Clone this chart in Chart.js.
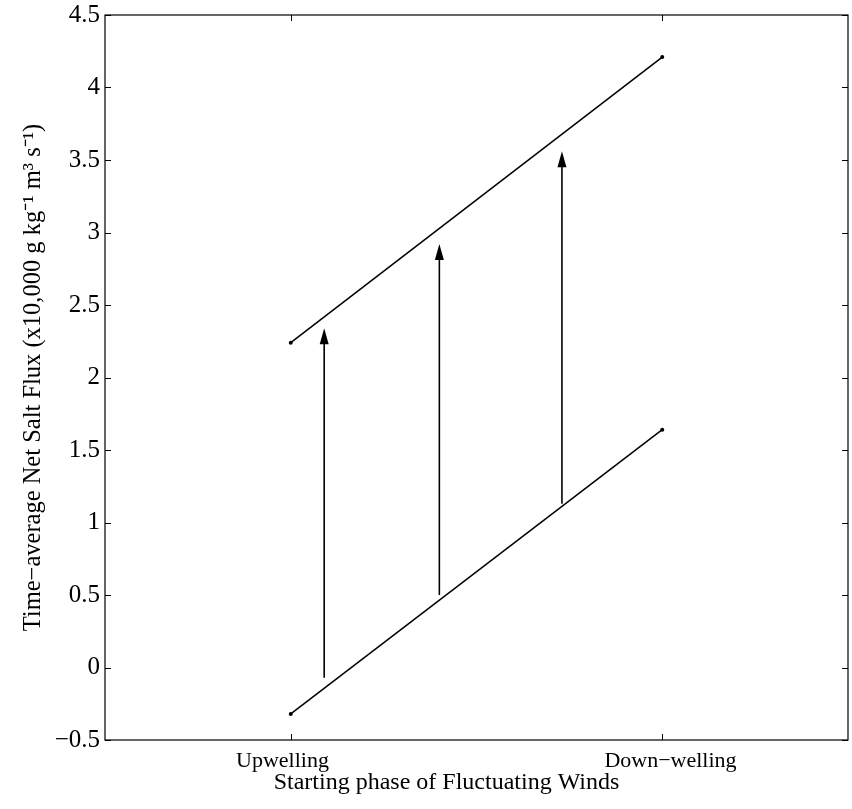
<!DOCTYPE html>
<html>
<head>
<meta charset="utf-8">
<script src="https://cdn.jsdelivr.net/npm/chart.js@4.4.1/dist/chart.umd.min.js"></script>
<style>
  html, body { margin: 0; padding: 0; background: #ffffff; }
  #wrap { width: 852px; height: 809px; position: relative; }
</style>
</head>
<body>
<div id="wrap"><canvas id="c"></canvas></div>
<script>
// ---- data ----
const phaseLabels = ['Upwelling\u00A0\u00A0\u00A0', '\u00A0\u00A0\u00A0Down\u2212welling'];
const phaseX = [0, 1];
const upperFlux = [2.24, 4.21];
const lowerFlux = [-0.32, 1.64];
const arrowX = [0.09, 0.40, 0.73];
const arrowStart = [-0.07, 0.50, 1.13];
const arrowEnd = [2.34, 2.92, 3.56];
const yTickValues = [-0.5, 0, 0.5, 1, 1.5, 2, 2.5, 3, 3.5, 4, 4.5];

const FONT = 'Liberation Serif';

const datasets = [
  {
    label: 'upper',
    data: phaseX.map((x, i) => ({ x: x, y: upperFlux[i] })),
    showLine: true, borderColor: '#000', borderWidth: 1.5,
    pointRadius: 2, pointBackgroundColor: '#000', pointBorderWidth: 0
  },
  {
    label: 'lower',
    data: phaseX.map((x, i) => ({ x: x, y: lowerFlux[i] })),
    showLine: true, borderColor: '#000', borderWidth: 1.5,
    pointRadius: 2, pointBackgroundColor: '#000', pointBorderWidth: 0
  }
];
arrowX.forEach((x, i) => {
  datasets.push({
    label: 'arrow' + i, isArrow: true,
    data: [{ x: x, y: arrowStart[i] }, { x: x, y: arrowEnd[i] - 0.05 }],
    showLine: true, borderColor: '#000', borderWidth: 1.6, pointRadius: 0
  });
});

const framePlugin = {
  id: 'frame',
  afterDatasetsDraw(chart) {
    const ctx = chart.ctx;
    const a = chart.chartArea;
    const xs = chart.scales.x, ys = chart.scales.y;
    ctx.save();
    // arrowheads
    chart.data.datasets.forEach((ds, i) => {
      if (!ds.isArrow) return;
      const px = xs.getPixelForValue(arrowX[i - 2]);
      const py = ys.getPixelForValue(arrowEnd[i - 2]);
      ctx.beginPath();
      ctx.moveTo(px, py);
      ctx.lineTo(px - 4.5, py + 16);
      ctx.lineTo(px + 4.5, py + 16);
      ctx.closePath();
      ctx.fillStyle = '#000';
      ctx.fill();
    });
    // box
    ctx.strokeStyle = '#000';
    ctx.lineWidth = 1.2;
    ctx.strokeRect(a.left, a.top, a.right - a.left, a.bottom - a.top);
    // inward ticks
    const tl = 6;
    ctx.lineWidth = 1;
    ctx.beginPath();
    yTickValues.forEach(v => {
      const py = Math.round(ys.getPixelForValue(v)) + 0.5;
      ctx.moveTo(a.left, py); ctx.lineTo(a.left + tl, py);
      ctx.moveTo(a.right, py); ctx.lineTo(a.right - tl, py);
    });
    phaseX.forEach(v => {
      const px = Math.round(xs.getPixelForValue(v)) + 0.5;
      ctx.moveTo(px, a.bottom); ctx.lineTo(px, a.bottom - tl);
      ctx.moveTo(px, a.top); ctx.lineTo(px, a.top + tl);
    });
    ctx.stroke();
    ctx.restore();
  }
};

new Chart(document.getElementById('c'), {
  type: 'scatter',
  data: { datasets: datasets },
  plugins: [framePlugin],
  options: {
    responsive: true,
    maintainAspectRatio: false,
    animation: false,
    layout: { padding: { top: 15, right: 4, left: 0, bottom: 0 } },
    plugins: { legend: { display: false }, tooltip: { enabled: false } },
    scales: {
      x: {
        type: 'linear', min: -0.5, max: 1.5,
        afterBuildTicks: (s) => { s.ticks = phaseX.map(v => ({ value: v })); },
        afterFit: (s) => { s.height = 69; s.paddingLeft = 0; s.paddingRight = 0; },
        grid: { display: false, drawTicks: false },
        border: { display: false },
        ticks: {
          padding: 8, color: '#000', maxRotation: 0, autoSkip: false,
          font: { family: FONT, size: 22 },
          callback: (v) => phaseLabels[phaseX.indexOf(v)]
        },
        title: {
          display: true,
          text: 'Starting phase of Fluctuating Winds' + '\u00A0'.repeat(10),
          color: '#000',
          font: { family: FONT, size: 24 }, padding: { top: 0, bottom: 12 }
        }
      },
      y: {
        type: 'linear', min: -0.5, max: 4.5,
        afterBuildTicks: (s) => { s.ticks = yTickValues.map(v => ({ value: v })); },
        afterFit: (s) => { s.width = 105; s.paddingTop = 0; s.paddingBottom = 0; },
        grid: { display: false, drawTicks: false },
        border: { display: false },
        ticks: {
          padding: 5, color: '#000', autoSkip: false,
          font: { family: FONT, size: 25 },
          callback: (v) => String(v).replace('-', '\u2212')
        },
        title: {
          display: true,
          text: 'Time\u2212average Net Salt Flux (x10,000 g kg\u207B\u00B9 m\u00B3 s\u207B\u00B9)',
          color: '#000', font: { family: FONT, size: 24.5 }, padding: { top: 19, bottom: 0 }
        }
      }
    }
  }
});
</script>
</body>
</html>
